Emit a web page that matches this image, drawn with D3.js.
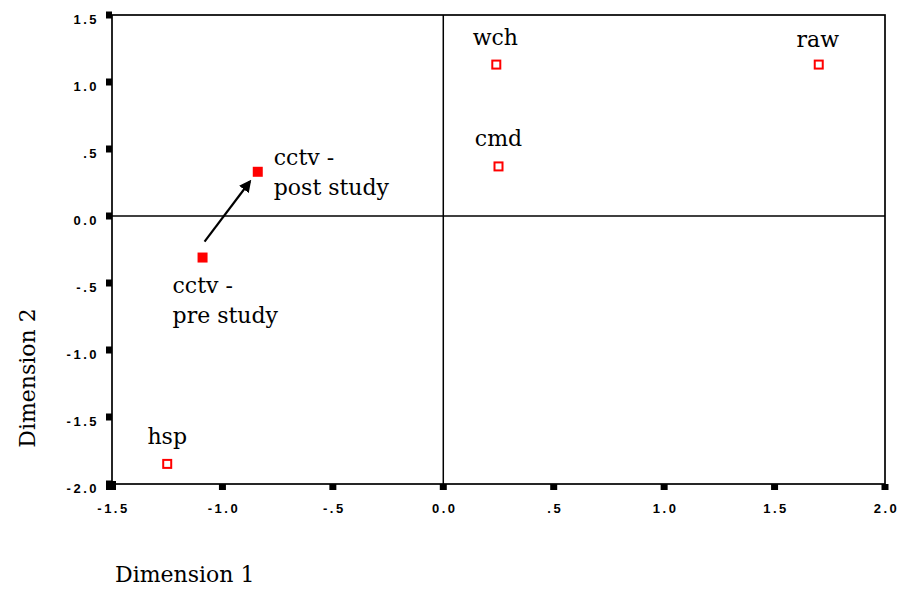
<!DOCTYPE html>
<html>
<head>
<meta charset="utf-8">
<script src="https://cdn.jsdelivr.net/npm/d3@7"></script>
<style>
  html, body { margin: 0; padding: 0; background: #fff; }
  svg { display: block; }
  .tick-label { font-family: "Liberation Sans", Arial, sans-serif; font-size: 13px; font-weight: bold; letter-spacing: 2.5px; fill: #000; }
  .pt-label { font-family: "DejaVu Serif", "Liberation Serif", serif; font-size: 22px; fill: #000; }
  .axis-title { font-family: "DejaVu Serif", "Liberation Serif", serif; font-size: 22px; fill: #000; }
</style>
</head>
<body>
<svg id="chart" width="898" height="590"></svg>
<script>
// Object coordinates in the two-dimensional solution
const names = ["wch", "raw", "cmd", "cctv post", "cctv pre", "hsp"];
const dim1 = [0.24, 1.70, 0.25, -0.84, -1.09, -1.25];
const dim2 = [1.13, 1.13, 0.37, 0.33, -0.31, -1.85];
const filled = [false, false, false, true, true, false];
// label lines drawn next to each point
const labelLines = [["wch"], ["raw"], ["cmd"], ["cctv -", "post study"], ["cctv -", "pre study"], ["hsp"]];

const xTickValues = [-1.5, -1.0, -0.5, 0.0, 0.5, 1.0, 1.5, 2.0];
const xTickLabels = ["-1.5", "-1.0", "-.5", "0.0", ".5", "1.0", "1.5", "2.0"];
const yTickValues = [1.5, 1.0, 0.5, 0.0, -0.5, -1.0, -1.5, -2.0];
const yTickLabels = ["1.5", "1.0", ".5", "0.0", "-.5", "-1.0", "-1.5", "-2.0"];

const svg = d3.select("#chart");
const plotL = 112, plotR = 885, plotT = 15, plotB = 484;

const x = d3.scaleLinear().domain([-1.5, 2.0]).range([plotL, plotR]);
const y = d3.scaleLinear().domain([-2.0, 1.5]).range([plotB, plotT]);

// frame
svg.append("rect")
  .attr("x", plotL).attr("y", plotT)
  .attr("width", plotR - plotL).attr("height", plotB - plotT)
  .attr("fill", "none").attr("stroke", "#000").attr("stroke-width", 1.7);

// reference lines through the origin
svg.append("line")
  .attr("x1", x(0)).attr("x2", x(0)).attr("y1", plotT).attr("y2", plotB)
  .attr("stroke", "#000").attr("stroke-width", 1.5);
svg.append("line")
  .attr("x1", plotL).attr("x2", plotR).attr("y1", y(0)).attr("y2", y(0))
  .attr("stroke", "#000").attr("stroke-width", 1.5);

// y ticks: small black blocks outside the left edge
const yt = svg.append("g");
yTickValues.forEach((v, i) => {
  yt.append("rect")
    .attr("x", plotL - 6).attr("y", y(v) - 3.5)
    .attr("width", 6).attr("height", 7).attr("fill", "#000");
  yt.append("text").attr("class", "tick-label")
    .attr("x", 99).attr("y", y(v) + 9)
    .attr("text-anchor", "end")
    .text(yTickLabels[i]);
});

// x ticks: small black blocks below the bottom edge
const xt = svg.append("g");
xTickValues.forEach((v, i) => {
  xt.append("rect")
    .attr("x", x(v) - 3.5).attr("y", plotB)
    .attr("width", 7).attr("height", 6).attr("fill", "#000");
  xt.append("text").attr("class", "tick-label")
    .attr("x", x(v) + 1.5).attr("y", plotB + 29)
    .attr("text-anchor", "middle")
    .text(xTickLabels[i]);
});

// corner block
svg.append("rect").attr("x", plotL - 6).attr("y", plotB - 3).attr("width", 10).attr("height", 9).attr("fill", "#000");

// arrow from pre-study to post-study position
svg.append("defs").append("marker")
  .attr("id", "head").attr("viewBox", "0 0 10 10")
  .attr("refX", 8).attr("refY", 5)
  .attr("markerWidth", 5.5).attr("markerHeight", 5.5)
  .attr("orient", "auto")
  .append("path").attr("d", "M0,0 L10,5 L0,10 Z").attr("fill", "#000");

const pre = 4, post = 3;
svg.append("line")
  .attr("x1", x(dim1[pre]) + 2).attr("y1", y(dim2[pre]) - 16)
  .attr("x2", x(dim1[post]) - 8).attr("y2", y(dim2[post]) + 10)
  .attr("stroke", "#000").attr("stroke-width", 2.2)
  .attr("marker-end", "url(#head)");

// points
const pts = svg.append("g");
names.forEach((n, i) => {
  const s = filled[i] ? 10 : 8;
  pts.append("rect")
    .attr("x", x(dim1[i]) - s / 2).attr("y", y(dim2[i]) - s / 2)
    .attr("width", s).attr("height", s)
    .attr("fill", filled[i] ? "#ff0000" : "#fff")
    .attr("stroke", filled[i] ? "none" : "#ff0000")
    .attr("stroke-width", 2);
});

// point labels
const labelPos = [
  { dx: -1, dy: -20, anchor: "middle" },
  { dx: -1, dy: -18, anchor: "middle" },
  { dx: 0, dy: -20, anchor: "middle" },
  { dx: 16, dy: -7, anchor: "start" },
  { dx: -30, dy: 35, anchor: "start" },
  { dx: 0, dy: -20, anchor: "middle" }
];
const lab = svg.append("g");
names.forEach((n, i) => {
  const p = labelPos[i];
  const t = lab.append("text").attr("class", "pt-label")
    .attr("x", x(dim1[i]) + p.dx).attr("y", y(dim2[i]) + p.dy)
    .attr("text-anchor", p.anchor);
  labelLines[i].forEach((line, k) => {
    t.append("tspan")
      .attr("x", x(dim1[i]) + p.dx)
      .attr("dy", k === 0 ? 0 : 30)
      .text(line);
  });
});

// axis titles
svg.append("text").attr("class", "axis-title")
  .attr("x", 115).attr("y", 582).text("Dimension 1");
svg.append("text").attr("class", "axis-title")
  .attr("transform", "translate(35,378) rotate(-90)")
  .attr("text-anchor", "middle").text("Dimension 2");
</script>
</body>
</html>
